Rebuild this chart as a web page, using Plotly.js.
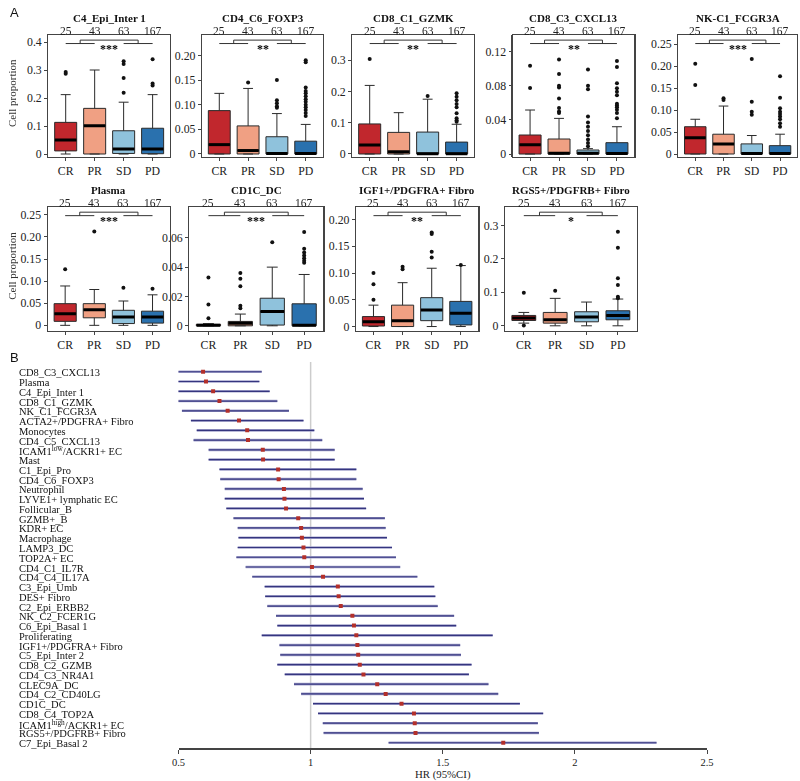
<!DOCTYPE html>
<html><head><meta charset="utf-8">
<script src="https://cdn.plot.ly/plotly-3.0.1.min.js"></script>
<style>html,body{margin:0;padding:0;background:#fff}#chart{width:800px;height:781px}
.annotation-text{filter:grayscale(100%);}</style>
</head><body><div id="chart"></div>
<script>
// ---------------- DATA ----------------
const groups = ['CR','PR','SD','PD'];
const groupCounts = ['25','43','63','167'];

const panelTitles = ['C4_Epi_Inter 1','CD4_C6_FOXP3','CD8_C1_GZMK','CD8_C3_CXCL13','NK-C1_FCGR3A',
                     'Plasma','CD1C_DC','IGF1+/PDGFRA+ Fibro','RGS5+/PDGFRB+ Fibro'];
const panelSig = ['***','**','**','**','***','***','***','**','*'];

// stats per group: [lower whisker, q1, median, q3, upper whisker]
const c4EpiStats  = [[0,0.011,0.050,0.113,0.212],[0,0,0.101,0.163,0.300],[0,0.002,0.018,0.083,0.185],[0,0.001,0.018,0.092,0.212]];
const c4EpiOut    = [[0.293,0.287],[],[0.331,0.321,0.271,0.219],[0.338,0.252,0.245]];
const cd4FoxStats = [[0,0,0.019,0.088,0.123],[0,0,0.007,0.057,0.133],[0,0,0.001,0.035,0.082],[0,0,0.001,0.026,0.060]];
const cd4FoxOut   = [[],[0.145],[0.150,0.109,0.103,0.097,0.094],[0.190,0.186,0.135,0.128,0.123,0.117,0.111,0.106,0.100,0.095,0.089,0.083,0.077]];
const cd8GzmkStats= [[0,0,0.029,0.096,0.219],[0,0,0.007,0.069,0.132],[0,0,0.001,0.070,0.175],[0,0,0.001,0.038,0.095]];
const cd8GzmkOut  = [[0.303],[],[0.185],[0.194,0.183,0.172,0.160,0.149,0.130,0.114,0.108,0.103]];
const cd8CxclStats= [[0,0,0.011,0.0223,0.0516],[0,0,0.001,0.0176,0.0418],[0,0,0.001,0.0047,0.0063],[0,0,0.0005,0.0133,0.032]];
const cd8CxclOut  = [[0.1036,0.0774],[0.111,0.094,0.080,0.078,0.065,0.054,0.050,0.048],
                     [0.099,0.080,0.076,0.044,0.037,0.032,0.027,0.022,0.017,0.013,0.009],
                     [0.109,0.102,0.083,0.077,0.073,0.069,0.059,0.057,0.055,0.052,0.048,0.042]];
const nkStats     = [[0,0,0.037,0.062,0.079],[0,0,0.023,0.045,0.109],[0,0,0.001,0.023,0.042],[0,0,0.001,0.019,0.045]];
const nkOut       = [[0.205,0.157],[0.127,0.123],[0.216,0.119,0.096,0.089],[0.177,0.128,0.104,0.096,0.091,0.085,0.079,0.070,0.062]];
const plasmaStats = [[0,0.009,0.026,0.049,0.089],[0,0.017,0.035,0.049,0.081],[0,0.004,0.019,0.034,0.055],[0,0.005,0.019,0.032,0.069]];
const plasmaOut   = [[0.127],[0.212],[0.085],[0.083]];
const cd1cStats   = [[0,0,0.0003,0.001,0.0015],[0,0,0.0018,0.003,0.008],[0,0.0005,0.0097,0.0188,0.040],[0,0,0.0003,0.015,0.035]];
const cd1cOut     = [[0.033,0.0145,0.0052],[0.036,0.032,0.027,0.0136,0.012],[0.057],[0.064,0.0525,0.050,0.048,0.046,0.0444,0.043]];
const igf1Stats   = [[0,0.001,0.009,0.0186,0.040],[0,0,0.011,0.040,0.082],[0,0.011,0.031,0.054,0.109],[0,0.003,0.025,0.047,0.114]];
const igf1Out     = [[0.100,0.079,0.050],[0.112,0.107],[0.176,0.173,0.140,0.129],[0.115]];
const rgs5Stats   = [[0.008,0.016,0.023,0.031,0.040],[0,0.008,0.018,0.040,0.082],[0,0.012,0.026,0.042,0.071],[0,0.018,0.031,0.045,0.080]];
const rgs5Out     = [[0.099,0.001],[0.105],[],[0.281,0.233,0.142,0.122,0.087,0.082]];

const panelTickVals = [[0,0.1,0.2,0.3,0.4],[0,0.05,0.1,0.15,0.2],[0,0.1,0.2,0.3],[0,0.04,0.08,0.12],[0,0.05,0.1,0.15,0.2,0.25],
                       [0,0.05,0.1,0.15,0.2,0.25],[0,0.02,0.04,0.06],[0,0.05,0.1,0.15,0.2],[0,0.1,0.2,0.3]];
const panelTickText = [['0','0.1','0.2','0.3','0.4'],['0','0.05','0.10','0.15','0.20'],['0','0.1','0.2','0.3'],['0','0.04','0.08','0.12'],
                       ['0','0.05','0.10','0.15','0.20','0.25'],['0','0.05','0.10','0.15','0.20','0.25'],['0','0.02','0.04','0.06'],
                       ['0','0.05','0.10','0.15','0.20'],['0','0.1','0.2','0.3']];

// Forest plot
const forestLabels = ['CD8_C3_CXCL13','Plasma','C4_Epi_Inter 1','CD8_C1_GZMK','NK_C1_FCGR3A','ACTA2+/PDGFRA+ Fibro','Monocytes',
  'CD4_C5_CXCL13','ICAM1<sup>low</sup>/ACKR1+ EC','Mast','C1_Epi_Pro','CD4_C6_FOXP3','Neutrophil','LYVE1+ lymphatic EC','Follicular_B',
  'GZMB+_B','KDR+ EC','Macrophage','LAMP3_DC','TOP2A+ EC','CD4_C1_IL7R','CD4_C4_IL17A','C3_Epi_Umb','DES+ Fibro','C2_Epi_ERBB2',
  'NK_C2_FCER1G','C6_Epi_Basal 1','Proliferating','IGF1+/PDGFRA+ Fibro','C5_Epi_Inter 2','CD8_C2_GZMB','CD4_C3_NR4A1','CLEC9A_DC',
  'CD4_C2_CD40LG','CD1C_DC','CD8_C4_TOP2A','ICAM1<sup>high</sup>/ACKR1+ EC','RGS5+/PDGFRB+ Fibro','C7_Epi_Basal 2'];
const forestHR = [0.593,0.604,0.631,0.655,0.686,0.729,0.760,0.763,0.819,0.820,0.877,0.879,0.899,0.901,0.907,0.953,0.964,0.967,0.973,0.976,
  1.005,1.047,1.103,1.106,1.114,1.158,1.164,1.173,1.177,1.180,1.186,1.200,1.252,1.284,1.344,1.391,1.394,1.397,1.729];
const forestLo = [0.432,0.451,0.473,0.487,0.513,0.547,0.569,0.557,0.614,0.614,0.655,0.658,0.675,0.675,0.681,0.708,0.724,0.727,0.724,0.719,
  0.754,0.779,0.826,0.828,0.836,0.869,0.874,0.815,0.882,0.885,0.874,0.902,0.937,0.964,1.009,1.028,1.046,1.049,1.295];
const forestHi = [0.815,0.806,0.845,0.874,0.918,0.973,1.014,1.044,1.091,1.091,1.173,1.173,1.197,1.202,1.210,1.281,1.284,1.289,1.308,1.323,
  1.339,1.404,1.468,1.472,1.481,1.543,1.551,1.689,1.566,1.569,1.609,1.599,1.673,1.710,1.792,1.880,1.860,1.864,2.309];
const forestTicks = [0.5,1,1.5,2,2.5];
const forestTickText = ['0.5','1','1.5','2','2.5'];

// ---------------- STYLE / LAYOUT ----------------
const groupColors = ['#C1272D','#F0A083','#8FC2DC','#2A71AE'];
const serif = "Liberation Serif";
const W = 800, H = 781;
const panelStats = [c4EpiStats,cd4FoxStats,cd8GzmkStats,cd8CxclStats,nkStats,plasmaStats,cd1cStats,igf1Stats,rgs5Stats];
const panelOut = [c4EpiOut,cd4FoxOut,cd8GzmkOut,cd8CxclOut,nkOut,plasmaOut,cd1cOut,igf1Out,rgs5Out];
const panelPos = [
  {x0:48.3,x1:170,row:0,yr:[-0.0107,0.425]},
  {x0:202,x1:323,row:0,yr:[-0.0061,0.2414]},
  {x0:352.3,x1:474,row:0,yr:[-0.0096,0.380]},
  {x0:512.7,x1:634.3,row:0,yr:[-0.0035,0.1396]},
  {x0:678.3,x1:797,row:0,yr:[-0.0068,0.2705]},
  {x0:47.7,x1:170,row:1,yr:[-0.0117,0.2676]},
  {x0:189.3,x1:323.3,row:1,yr:[-0.0032,0.0810]},
  {x0:356,x1:478.3,row:1,yr:[-0.0074,0.2235]},
  {x0:505,x1:636.7,row:1,yr:[-0.014,0.355]}
];
const rows = [{top:35,bottom:157},{top:207,bottom:330.5}];

const traces = [];
const layout = {
  width: W, height: H, margin:{l:0,r:0,t:0,b:0}, paper_bgcolor:'#fff', plot_bgcolor:'#fff',
  showlegend:false, boxmode:'overlay', font:{family:serif, color:'#222', size:11},
  shapes:[], annotations:[]
};

panelPos.forEach((p,k)=>{
  const n = k+1;
  const xa = 'x'+(n===1?'':n), ya = 'y'+(n===1?'':n);
  const xk = 'xaxis'+(n===1?'':n), yk = 'yaxis'+(n===1?'':n);
  const r = rows[p.row];
  layout[xk] = {domain:[p.x0/W,p.x1/W], range:[-0.6,3.6], tickvals:[0,1,2,3], ticktext:groups,
    showline:true, mirror:true, linecolor:'#444', linewidth:1.2, ticks:'outside', ticklen:3, tickcolor:'#444',
    showgrid:false, zeroline:false, anchor:ya, fixedrange:true, tickfont:{family:serif,size:11.8,color:'#222'}};
  layout[yk] = {domain:[1-r.bottom/H, 1-r.top/H], range:p.yr, tickvals:panelTickVals[k], ticktext:panelTickText[k],
    showline:true, mirror:true, linecolor:'#444', linewidth:1.2, ticks:'outside', ticklen:3, tickcolor:'#444',
    showgrid:false, zeroline:false, anchor:xa, fixedrange:true, tickfont:{family:serif,size:11.8,color:'#222'}};
  const st = panelStats[k], out = panelOut[k];
  groups.forEach((g,i)=>{
    const s = st[i];
    traces.push({type:'box', x:[i], lowerfence:[s[0]], q1:[s[1]], median:[s[2]], q3:[s[3]], upperfence:[s[4]],
      width:0.76, whiskerwidth:0.45, fillcolor:groupColors[i], line:{color:'#2a2a2a',width:1},
      boxpoints:false, xaxis:xa, yaxis:ya, hoverinfo:'skip', name:g});
    traces.push({type:'scatter', mode:'lines', x:[i-0.37,i+0.37], y:[s[2],s[2]], line:{color:'#000',width:3},
      xaxis:xa, yaxis:ya, hoverinfo:'skip'});
    if (out[i].length) traces.push({type:'scatter', mode:'markers', x:out[i].map(()=>i), y:out[i],
      marker:{size:4, color:'#111'}, xaxis:xa, yaxis:ya, hoverinfo:'skip'});
  });
  // significance bracket
  const lo = 0.93, hi = 0.958, yd = ya+' domain';
  const seg = (x0,y0,x1,y1)=>layout.shapes.push({type:'line', xref:xa, yref:yd, x0, y0, x1, y1, line:{color:'#333',width:1}});
  seg(0,lo,1,lo); seg(2,lo,3,lo); seg(0.5,lo,0.5,hi); seg(2.5,lo,2.5,hi); seg(0.5,hi,2.5,hi);
  layout.annotations.push({xref:xa, yref:yd, x:1.5, y:0.885, xanchor:'center', text:'<b>'+panelSig[k]+'</b>', showarrow:false, yanchor:'middle',
    font:{family:serif,size:12,color:'#000000'}});
  // counts
  groupCounts.forEach((c,i)=>layout.annotations.push({xref:xa, yref:yd, x:i, y:1, yshift:4.5, xanchor:'center', yanchor:'middle',
    text:c, showarrow:false, font:{family:serif,size:11.5,color:'#222'}}));
  // title
  layout.annotations.push({xref:'paper', yref:yd, x:(p.x0+p.x1)/2/W, y:1, yshift:16.8, xanchor:'center', yanchor:'middle',
    text:'<b>'+panelTitles[k]+'</b>', showarrow:false, font:{family:serif,size:11,color:'#111'}});
  if (k===0 || k===5) layout.annotations.push({xref:'paper', yref:'paper', x:12/W, y:1-((r.top+r.bottom)/2-3)/H,
    xanchor:'center', yanchor:'middle',
    text:'Cell proportion', textangle:-90, showarrow:false, font:{family:serif,size:11,color:'#333'}});
});

// forest plot
const rowsY = forestLabels.map((_,i)=>forestLabels.length - i);
const ciX = [], ciY = [];
forestLo.forEach((v,i)=>{ ciX.push(v, forestHi[i], null); ciY.push(rowsY[i], rowsY[i], null); });
traces.push({type:'scatter', mode:'lines', x:ciX, y:ciY, line:{color:'#a4a4cc',width:2.6}, xaxis:'x10', yaxis:'y10', hoverinfo:'skip'});
traces.push({type:'scatter', mode:'lines', x:ciX, y:ciY, line:{color:'#35357f',width:1.2}, xaxis:'x10', yaxis:'y10', hoverinfo:'skip'});
traces.push({type:'scatter', mode:'markers', x:forestHR, y:rowsY, marker:{symbol:'square', size:4, color:'#b3302b'},
  xaxis:'x10', yaxis:'y10', hoverinfo:'skip'});
layout.xaxis10 = {domain:[178.5/W, 707/W], range:[0.5,2.5], tickvals:forestTicks, ticktext:forestTickText,
  showline:true, linecolor:'#444', linewidth:1.3, ticks:'outside', ticklen:4, tickcolor:'#444', showgrid:false, zeroline:false,
  anchor:'y10', fixedrange:true, tickfont:{family:serif,size:10.5,color:'#222'},
  title:{text:'HR (95%CI)', font:{family:serif,size:10.8,color:'#222'}, standoff:3}};
layout.yaxis10 = {domain:[1-748.3/H, 1-362/H], range:[0.43,40], visible:false, anchor:'x10', fixedrange:true};
layout.shapes.push({type:'line', xref:'x10', yref:'y10 domain', x0:1, x1:1, y0:0, y1:1, layer:'below',
  line:{color:'#cccccc', width:1.5}});
forestLabels.forEach((t,i)=>layout.annotations.push({xref:'paper', yref:'y10', x:17/W, y:rowsY[i], xanchor:'left', yanchor:'middle',
  yshift:-1, text:t, showarrow:false, font:{family:serif,size:10.5,color:'#111'}}));

// panel letters
layout.annotations.push({xref:'paper', yref:'paper', x:8/W, y:1-12/H, xanchor:'left', yanchor:'middle', text:'A', showarrow:false,
  font:{family:"Liberation Sans", size:13, color:'#111'}});
layout.annotations.push({xref:'paper', yref:'paper', x:8/W, y:1-357/H, xanchor:'left', yanchor:'middle', text:'B', showarrow:false,
  font:{family:"Liberation Sans", size:13, color:'#111'}});

Plotly.newPlot('chart', traces, layout, {staticPlot:true, displayModeBar:false});
</script>
</body></html>
